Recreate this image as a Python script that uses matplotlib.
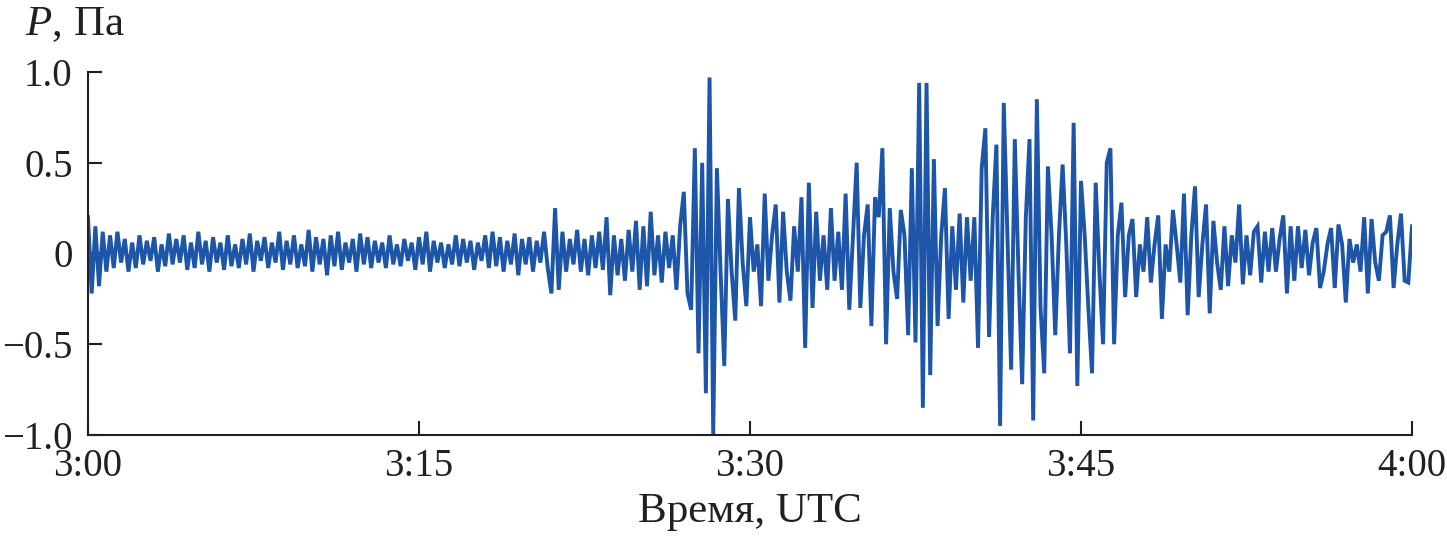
import numpy as np
import matplotlib
matplotlib.use("Agg")
import matplotlib.pyplot as plt

# ---------------------------
# Daten (Druck in Pa, alle 10 s, 3:00 - 4:00 UTC)
# ---------------------------
p_3_00 = [
    0.2, -0.22, 0.15, -0.18, 0.12, -0.1,
    0.1, -0.08, 0.12, -0.05, 0.08, -0.1,
    0.06, -0.08, 0.1, -0.06, 0.07, -0.04,
    0.09, -0.1, 0.05, -0.07, 0.11, -0.06,
    0.08, -0.05, 0.1, -0.09, 0.06, -0.08,
    0.12, -0.06, 0.07, -0.1, 0.09, -0.05,
    0.06, -0.09, 0.1, -0.07, 0.05, -0.08,
    0.08, -0.06, 0.11, -0.1, 0.07, -0.04,
    0.09, -0.08, 0.06, -0.05, 0.12, -0.09,
    0.07, -0.06, 0.1, -0.08, 0.05, -0.07,
    0.13, -0.1, 0.09, -0.06, 0.08, -0.12,
    0.1, -0.07, 0.12, -0.09, 0.06, -0.05,
    0.08, -0.1, 0.11, -0.06, 0.09, -0.08,
    0.07, -0.05, 0.06, -0.08, 0.1, -0.06,
    0.05, -0.07, 0.08, -0.04, 0.06, -0.09,
    0.09, -0.06, 0.12, -0.1, 0.07, -0.05,
    0.06, -0.08, 0.05, -0.06, 0.1, -0.07,
    0.08, -0.05, 0.07, -0.09, 0.06, -0.04,
    0.1, -0.08, 0.12, -0.07, 0.09, -0.1,
    0.07, -0.06, 0.11, -0.12, 0.08, -0.06,
    0.09, -0.1, 0.07, -0.05, 0.12, -0.08,
]
p_3_21 = [
    -0.22, 0.25, -0.2, 0.12, -0.1, 0.08,
    -0.06, 0.13, -0.1, 0.08, -0.12, 0.1,
    -0.08, 0.12, -0.09, 0.2, -0.23, 0.1,
    -0.12, 0.08, -0.15, 0.13, -0.1, 0.18,
    -0.2, 0.15, -0.18, 0.23, -0.12, 0.1,
    -0.16, 0.12, -0.08, 0.1, -0.2, 0.15,
    0.34, -0.22, -0.31, 0.58, -0.55, 0.5,
    -0.77, 0.97, -1.0, 0.47, -0.1, -0.62,
    0.3, -0.1, -0.37, 0.36, -0.05, -0.29,
    0.2, -0.1, 0.05, -0.29, 0.33, -0.15,
    0.1, 0.27, -0.27, 0.23, -0.1, -0.26,
    0.15, -0.1, 0.31, -0.52, 0.39, -0.3,
    0.23, -0.15, 0.1, -0.2, 0.25, -0.15,
    0.12, -0.2, 0.33, -0.31, 0.1, 0.5,
    -0.3, 0.1, 0.27, -0.4, 0.31, 0.2,
    0.58, -0.5, 0.25, -0.1, -0.25, 0.24,
    0.1, -0.45, 0.47, -0.49, 0.94, -0.85,
    0.94, -0.67, 0.52, -0.4, 0.1, 0.36,
    -0.36, 0.15, -0.2, 0.22, -0.27, 0.2,
    -0.15, 0.2, -0.52, 0.47, 0.69, -0.46,
]
p_3_41 = [
    0.2, 0.6, -0.95, 0.83, 0.1, -0.64,
    0.63, -0.1, -0.72, 0.2, 0.63, -0.92,
    0.85, -0.3, -0.66, 0.48, 0.1, -0.45,
    0.1, 0.49, 0.05, -0.55, 0.72, -0.73,
    0.4, 0.1, -0.3, -0.66, 0.39, -0.1,
    -0.5, 0.5, 0.58, -0.5, 0.1, 0.28,
    -0.24, 0.1, 0.19, -0.24, 0.05, -0.1,
    0.2, -0.16, 0.05, 0.21, -0.36, 0.05,
    -0.1, 0.24, 0.05, -0.16, 0.33, -0.34,
    0.1, 0.37, -0.24, 0.05, 0.27, -0.33,
    0.18, -0.05, -0.2, 0.15, -0.18, 0.1,
    -0.05, 0.27, -0.17, 0.1, -0.12, 0.12,
    0.15, -0.16, 0.12, -0.1, 0.14, -0.1,
    0.08, 0.21, -0.22, 0.15, -0.15, 0.15,
    -0.08, 0.13, -0.12, 0.06, 0.14, -0.19,
    -0.1, 0.05, 0.14, -0.19, 0.16, 0.05,
    -0.27, 0.08, -0.05, 0.05, -0.1, 0.2,
    -0.22, 0.19, -0.05, -0.15, 0.1, 0.12,
    0.21, -0.19, 0.05, 0.22, -0.15, -0.16,
    0.15,
]

x_ticks = [0, 15, 30, 45, 60]
x_labels = ["3:00", "3:15", "3:30", "3:45", "4:00"]
y_ticks = [-1.0, -0.5, 0, 0.5, 1.0]
y_labels = ["\u22121.0", "\u22120.5", "0", "0.5", "1.0"]

p = np.array(p_3_00 + p_3_21 + p_3_41)
t_min = np.arange(len(p)) * 10 / 60  # Minuten nach 3:00

# ---------------------------
# Plot
# ---------------------------
plt.rcParams["font.family"] = ["Liberation Serif", "DejaVu Serif"]
plt.rcParams["mathtext.fontset"] = "custom"
plt.rcParams["mathtext.rm"] = "Liberation Serif"
plt.rcParams["mathtext.it"] = "Liberation Serif:italic"

fig = plt.figure(figsize=(14.47, 5.41), dpi=100)
ax = fig.add_axes([88 / 1447, 1 - 435 / 541, (1412 - 88) / 1447, (435 - 72) / 541])

ax.plot(t_min, p, color="#1d55a8", lw=2.8, solid_joinstyle="miter")

ax.set_xlim(0, 60)
ax.set_ylim(-1, 1)
ax.set_xticks(x_ticks)
ax.set_xticklabels(x_labels)
ax.set_yticks(y_ticks)
ax.set_yticklabels(y_labels)

for s in ["top", "right"]:
    ax.spines[s].set_visible(False)
for s in ["left", "bottom"]:
    ax.spines[s].set_linewidth(1.5)
    ax.spines[s].set_color("#231f20")

ax.tick_params(axis="both", direction="in", length=10, width=1.5,
               colors="#231f20", labelsize=28)
ax.tick_params(axis="y", pad=11)
ax.tick_params(axis="x", pad=9)

ax.set_xlabel("Время, UTC", fontsize=31, color="#231f20", labelpad=6)
fig.text(25 / 1447, 1 - 35 / 541, "$P$, Па", fontsize=31, color="#231f20",
         ha="left", va="baseline")

fig.savefig("out.png", dpi=100)
